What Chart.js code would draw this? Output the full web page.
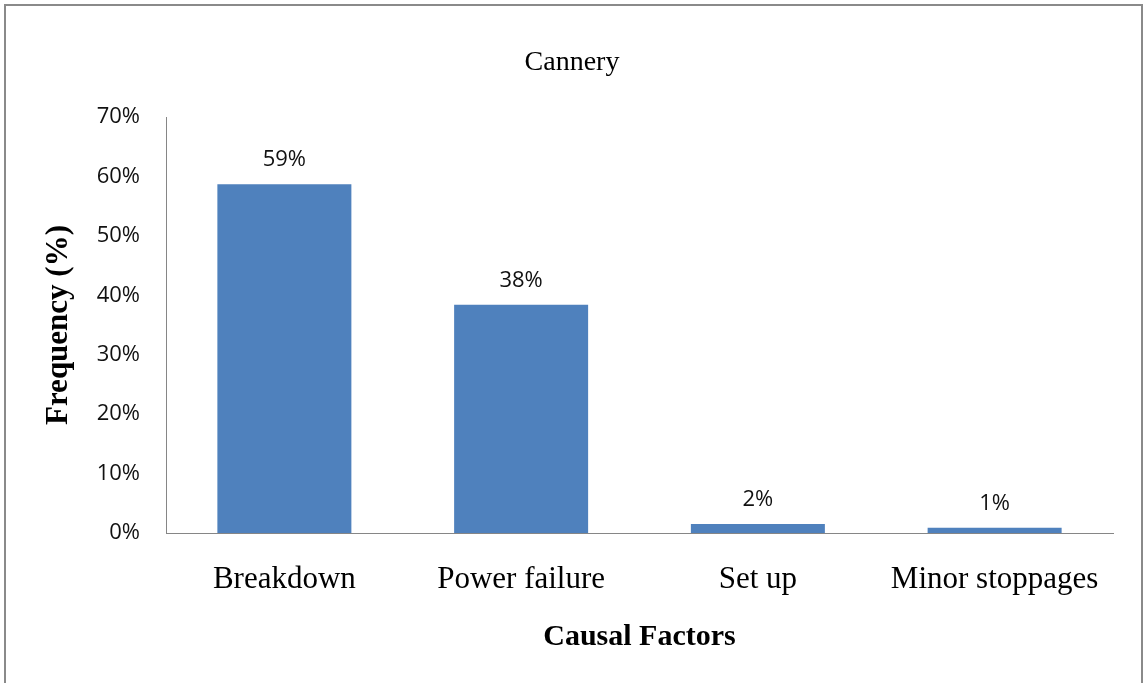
<!DOCTYPE html>
<html>
<head>
<meta charset="utf-8">
<title>Cannery</title>
<script src="https://cdn.jsdelivr.net/npm/chart.js@4.4.1/dist/chart.umd.min.js"></script>
<style>
  html, body { margin: 0; padding: 0; background: #fff; overflow: hidden; }
  #wrap { position: relative; width: 1144px; height: 683px; }
  #frame {
    position: absolute; left: 4px; top: 4px; width: 1139px; height: 720px;
    border: 2px solid #8a8a8a; box-sizing: border-box; pointer-events: none;
  }
</style>
</head>
<body>
<div id="wrap">
  <canvas id="chart" width="1144" height="683"></canvas>
  <div id="frame"></div>
</div>
<script>
// Causal factors of downtime at the cannery, as a share of all stoppages (%)
const categories = ['Breakdown', 'Power failure', 'Set up', 'Minor stoppages'];
const frequency = [58.7, 38.4, 1.5, 0.9];
const yTicks = [0, 10, 20, 30, 40, 50, 60, 70];

const BAR_BLUE = '#4f81bd';
const AXIS_GREY = '#868686';
const SANS = "'Open Sans', 'DejaVu Sans', sans-serif";
const SERIF = "'Liberation Serif', 'DejaVu Serif', serif";

const pct = v => Math.round(v) + '%';

// Value labels written above each bar
const barValueLabels = {
  id: 'barValueLabels',
  afterDatasetsDraw(chart) {
    const ctx = chart.ctx;
    const meta = chart.getDatasetMeta(0);
    ctx.save();
    ctx.font = '22px ' + SANS;
    ctx.fillStyle = '#111';
    ctx.textAlign = 'center';
    ctx.textBaseline = 'alphabetic';
    meta.data.forEach((bar, i) => {
      ctx.fillText(pct(chart.data.datasets[0].data[i]), bar.x, bar.y - 18);
    });
    ctx.restore();
  }
};

new Chart(document.getElementById('chart'), {
  type: 'bar',
  data: {
    labels: categories,
    datasets: [{
      data: frequency,
      backgroundColor: BAR_BLUE,
      borderWidth: 0,
      categoryPercentage: 1,
      barPercentage: 0.566
    }]
  },
  options: {
    responsive: false,
    animation: false,
    events: [],
    layout: { padding: 0 },
    plugins: {
      legend: { display: false },
      tooltip: { enabled: false },
      title: {
        display: true,
        text: 'Cannery',
        color: '#000',
        font: { family: SERIF, size: 28, weight: 'normal', lineHeight: 1.2 },
        padding: { top: 46, bottom: 37.4 }
      }
    },
    scales: {
      x: {
        grid: { display: false, drawTicks: false },
        border: { display: true, color: AXIS_GREY, width: 1 },
        ticks: {
          color: '#000',
          padding: 28,
          maxRotation: 0,
          autoSkip: false,
          font: { family: SERIF, size: 31, lineHeight: 1.2 }
        },
        title: {
          display: true,
          text: 'Causal Factors',
          color: '#000',
          font: { family: SERIF, size: 30, weight: 'bold', lineHeight: 1.2 },
          padding: { top: 28, bottom: 28 }
        },
        afterFit(scale) { scale.height = 150; }
      },
      y: {
        min: 0,
        max: 70,
        grid: { display: false, drawTicks: false },
        border: { display: true, color: AXIS_GREY, width: 1 },
        afterBuildTicks(scale) { scale.ticks = yTicks.map(v => ({ value: v })); },
        ticks: {
          color: '#111',
          padding: 26,
          font: { family: SANS, size: 22 },
          callback: v => v + '%'
        },
        title: {
          display: true,
          text: 'Frequency (%)',
          color: '#000',
          font: { family: SERIF, size: 31, weight: 'bold', lineHeight: 1.2 },
          padding: { top: 40, bottom: 40 }
        },
        afterFit(scale) { scale.width = 166; }
      },
      // blank margin on the right side of the plot
      yRight: {
        position: 'right',
        display: true,
        grid: { display: false, drawTicks: false },
        border: { display: false },
        ticks: { display: false },
        afterFit(scale) { scale.width = 31; }
      }
    }
  },
  plugins: [barValueLabels]
});
</script>
</body>
</html>
